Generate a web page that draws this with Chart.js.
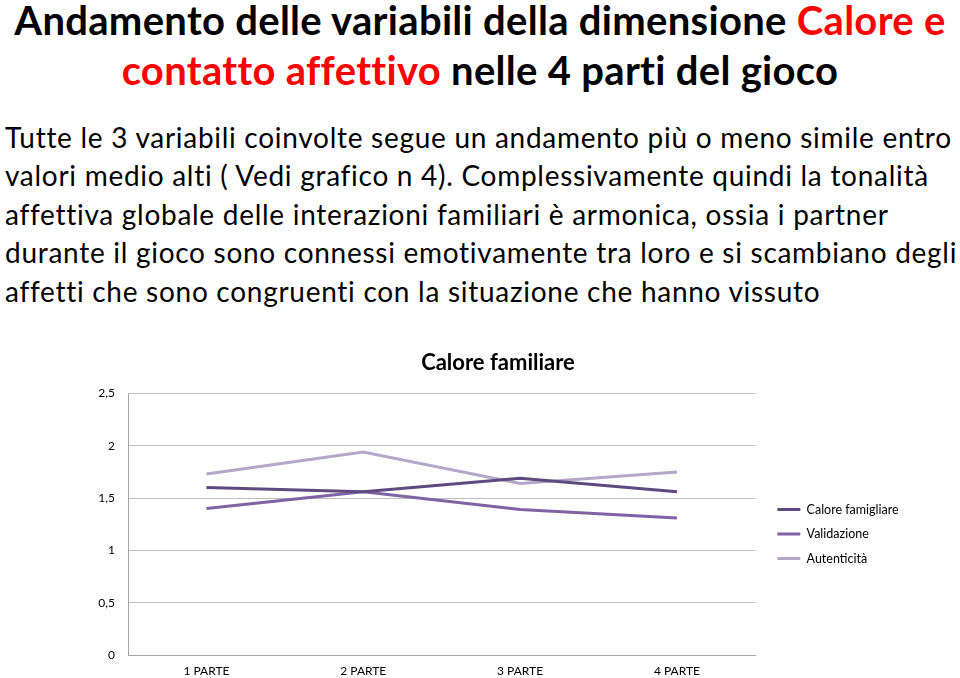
<!DOCTYPE html>
<html>
<head>
<meta charset="utf-8">
<script src="https://cdn.jsdelivr.net/npm/chart.js@4/dist/chart.umd.min.js"></script>
<style>
  html, body { margin: 0; padding: 0; background: #fff; }
  body { width: 960px; height: 678px; position: relative; overflow: hidden; font-family: Lato, "Open Sans", sans-serif; color: #000; }
  .title { position: absolute; left: 0; width: 960px; text-align: center; font-weight: bold; font-size: 40px; line-height: 44px; white-space: nowrap; letter-spacing: 0.3px; }
  .red { color: #ff0000; }
  .p { position: absolute; left: 5px; font-size: 28px; line-height: 32px; white-space: nowrap; letter-spacing: 0.72px; }
  #wrap { position: absolute; left: 0; top: 330px; width: 960px; height: 348px; }
</style>
</head>
<body>
<div class="title" style="top:-2px">Andamento delle variabili della dimensione <span class="red">Calore e</span></div>
<div class="title" style="top:48px"><span class="red">contatto affettivo</span> nelle 4 parti del gioco</div>
<div class="p" style="top:121px">Tutte le 3 variabili coinvolte segue un andamento più o meno simile entro</div>
<div class="p" style="top:159px">valori medio alti ( Vedi grafico n 4). Complessivamente quindi la tonalità</div>
<div class="p" style="top:198px">affettiva globale delle interazioni familiari è armonica, ossia i partner</div>
<div class="p" style="top:236px">durante il gioco sono connessi emotivamente tra loro e si scambiano degli</div>
<div class="p" style="top:275px">affetti che sono congruenti con la situazione che hanno vissuto</div>
<div id="wrap"><canvas id="c" width="960" height="348"></canvas></div>
<script>
const chartTitle = "Calore familiare";
const categories = ["1 PARTE", "2 PARTE", "3 PARTE", "4 PARTE"];
const seriesNames = ["Calore famigliare", "Validazione", "Autenticità"];
const caloreFamigliare = [1.60, 1.56, 1.69, 1.56];
const validazione = [1.40, 1.56, 1.39, 1.31];
const autenticita = [1.73, 1.94, 1.64, 1.75];
const yTicks = [0, 0.5, 1, 1.5, 2, 2.5];
const colors = ["#5e4a7e", "#7f63a3", "#b4a7c8"];

const seriesValues = [caloreFamigliare, validazione, autenticita];
const font = "Lato, 'Open Sans', sans-serif";

new Chart(document.getElementById('c'), {
  type: 'line',
  data: {
    labels: categories,
    datasets: seriesNames.map((n, i) => ({
      label: n,
      data: seriesValues[i],
      borderColor: colors[i],
      backgroundColor: colors[i],
      borderWidth: 3,
      pointRadius: 0,
      tension: 0,
      fill: false
    }))
  },
  options: {
    responsive: false,
    animation: false,
    layout: { padding: { left: 97, right: 61, top: 0, bottom: 0 } },
    plugins: {
      title: {
        display: true,
        text: chartTitle,
        color: '#000',
        font: { family: font, size: 22, weight: 'bold' },
        padding: { top: 20, bottom: 17 }
      },
      legend: {
        position: 'right',
        title: { display: true, text: ' ', font: { family: font, size: 10 }, padding: { top: 24, bottom: 24 } },
        labels: {
          usePointStyle: true,
          pointStyle: 'line',
          pointStyleWidth: 23,
          color: '#000',
          padding: 12,
          font: { family: font, size: 12.5 }
        }
      },
      tooltip: { enabled: false }
    },
    scales: {
      x: {
        offset: true,
        grid: { display: false, drawTicks: false },
        border: { display: true, color: '#a6a6a6', width: 1 },
        ticks: { color: '#000', font: { family: font, size: 12 }, padding: 9, maxRotation: 0 },
        afterFit: s => { s.height = 23; }
      },
      y: {
        min: 0, max: 2.5,
        afterBuildTicks: s => { s.ticks = yTicks.map(v => ({ value: v })); },
        grid: { color: '#bfbfbf', drawTicks: false, lineWidth: 1 },
        border: { display: true, color: '#a6a6a6', width: 1 },
        ticks: {
          color: '#000', font: { family: font, size: 12 }, padding: 13,
          callback: v => String(v).replace('.', ',')
        },
        afterFit: s => { s.width = 31; }
      },
      gap: {
        position: 'right',
        display: true,
        grid: { display: false, drawTicks: false },
        border: { display: false },
        ticks: { display: false },
        afterFit: s => { s.width = 10; }
      }
    }
  }
});
</script>
</body>
</html>
